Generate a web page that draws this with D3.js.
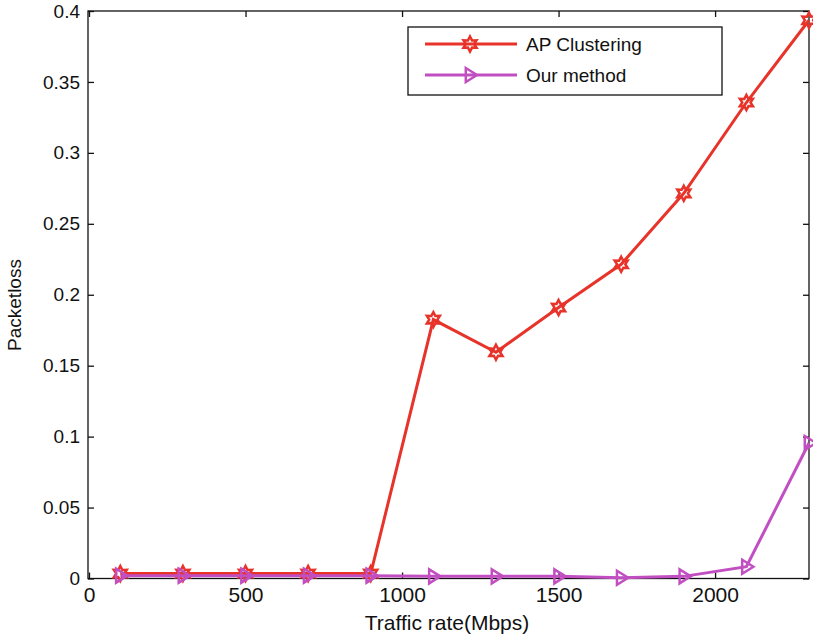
<!DOCTYPE html>
<html>
<head>
<meta charset="utf-8">
<script src="https://cdn.jsdelivr.net/npm/d3@7"></script>
<style>
  body { margin: 0; background: #fff; }
  text { font-family: "Liberation Sans", Arial, sans-serif; fill: #111; }
</style>
</head>
<body>
<div class="plot"></div>
<script>
var rates = [100, 300, 500, 700, 900, 1100, 1300, 1500, 1700, 1900, 2100, 2300];
var apClustering = [0.0035, 0.0035, 0.0035, 0.0035, 0.0035, 0.1825, 0.1595, 0.191, 0.2215, 0.2715, 0.3355, 0.3935];
var ourMethod = [0.002, 0.002, 0.002, 0.002, 0.002, 0.0015, 0.0015, 0.0015, 0.0005, 0.0015, 0.0083, 0.0955];
var xTicks = [0, 500, 1000, 1500, 2000];
var yTicks = [0, 0.05, 0.1, 0.15, 0.2, 0.25, 0.3, 0.35, 0.4];
var seriesNames = ["AP Clustering", "Our method"];

var width = 813,
    height = 640,
    plotLeft = 88, plotRight = 809, plotTop = 11, plotBottom = 578.5;

var x = d3.scaleLinear().domain([0, 2300]).range([plotLeft + 1, plotRight]);
var y = d3.scaleLinear().domain([0, 0.4]).range([plotBottom, plotTop]);

var svg = d3.select(".plot").append("svg")
    .attr("width", width)
    .attr("height", height);

// frame with inward ticks on all sides
svg.append("rect")
    .attr("x", plotLeft).attr("y", plotTop)
    .attr("width", plotRight - plotLeft).attr("height", plotBottom - plotTop)
    .attr("fill", "none").attr("stroke", "#111").attr("stroke-width", 1.3);

var xAxis = svg.append("g").attr("transform", "translate(0," + plotBottom + ")")
    .call(d3.axisBottom(x).tickValues(xTicks).tickSize(-6).tickPadding(9).tickFormat(d3.format("d")));
var xTop = svg.append("g").attr("transform", "translate(0," + plotTop + ")")
    .call(d3.axisTop(x).tickValues(xTicks).tickSize(-6).tickFormat(""));
var yAxis = svg.append("g").attr("transform", "translate(" + plotLeft + ",0)")
    .call(d3.axisLeft(y).tickValues(yTicks).tickSize(-6).tickPadding(8).tickFormat(function(d) { return String(+d.toFixed(2)); }));
var yRight = svg.append("g").attr("transform", "translate(" + plotRight + ",0)")
    .call(d3.axisRight(y).tickValues(yTicks).tickSize(-6).tickFormat(""));

[xAxis, xTop, yAxis, yRight].forEach(function(g) {
  g.select(".domain").remove();
  g.selectAll("line").attr("stroke", "#111").attr("stroke-width", 1.3);
});
xAxis.selectAll("text").attr("font-size", 21).attr("fill", "#111");
yAxis.selectAll("text").attr("font-size", 19).attr("fill", "#111");

svg.append("text")
    .attr("x", 447).attr("y", 630)
    .attr("text-anchor", "middle")
    .attr("font-size", 21)
    .text("Traffic rate(Mbps)");

svg.append("text")
    .attr("transform", "translate(21,305) rotate(-90)")
    .attr("text-anchor", "middle")
    .attr("font-size", 19)
    .text("Packetloss");

var red = "#e8332a", purple = "#c24fc2";

function hexagram(r) {
  var pts = [];
  for (var i = 0; i < 12; i++) {
    var a = -Math.PI / 2 + i * Math.PI / 6;
    var rr = i % 2 === 0 ? r : r * 0.55;
    pts.push([rr * Math.cos(a), rr * Math.sin(a)]);
  }
  return "M" + pts.join("L") + "Z";
}
function triRight(r) {
  return "M" + (-r * 0.6) + "," + (-r) + "L" + r + ",0L" + (-r * 0.6) + "," + r + "Z";
}

var line = d3.line()
    .x(function(d) { return x(d[0]); })
    .y(function(d) { return y(d[1]); });

var ourData = rates.map(function(r, i) { return [r, ourMethod[i]]; });
var apData = rates.map(function(r, i) { return [r, apClustering[i]]; });

svg.append("path").datum(apData)
    .attr("d", line).attr("fill", "none").attr("stroke", red).attr("stroke-width", 3);
svg.selectAll(".ap").data(apData).enter().append("path")
    .attr("class", "ap")
    .attr("transform", function(d) { return "translate(" + x(d[0]) + "," + y(d[1]) + ")"; })
    .attr("d", hexagram(7.5))
    .attr("fill", "none").attr("stroke", red).attr("stroke-width", 2.5);

svg.append("path").datum(ourData)
    .attr("d", line).attr("fill", "none").attr("stroke", purple).attr("stroke-width", 3);
svg.selectAll(".our").data(ourData).enter().append("path")
    .attr("class", "our")
    .attr("transform", function(d) { return "translate(" + x(d[0]) + "," + y(d[1]) + ")"; })
    .attr("d", triRight(7))
    .attr("fill", "none").attr("stroke", purple).attr("stroke-width", 2.5);

// legend
var legend = svg.append("g");
legend.append("rect")
    .attr("x", 408).attr("y", 27).attr("width", 314).attr("height", 68)
    .attr("fill", "#fff").attr("stroke", "#111").attr("stroke-width", 1.3);
var colors = [red, purple];
var shapes = [hexagram(7.5), triRight(7)];
seriesNames.forEach(function(name, i) {
  var ly = 44 + i * 31;
  legend.append("line")
      .attr("x1", 425).attr("x2", 517).attr("y1", ly).attr("y2", ly)
      .attr("stroke", colors[i]).attr("stroke-width", 3);
  legend.append("path")
      .attr("transform", "translate(470," + ly + ")")
      .attr("d", shapes[i])
      .attr("fill", "none").attr("stroke", colors[i]).attr("stroke-width", 2.5);
  legend.append("text")
      .attr("x", 526).attr("y", ly + 7)
      .attr("font-size", 19)
      .text(name);
});
</script>
</body>
</html>
